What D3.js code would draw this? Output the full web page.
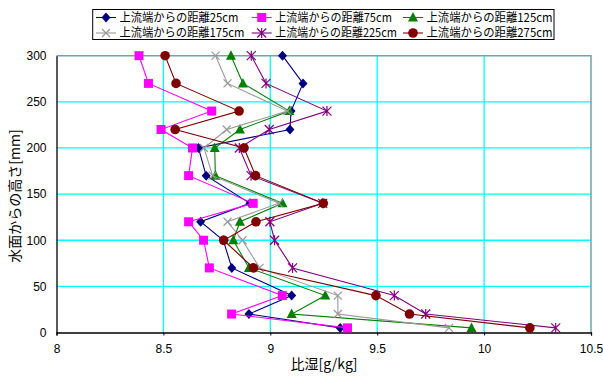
<!DOCTYPE html>
<html><head><meta charset="utf-8">
<script src="https://cdn.jsdelivr.net/npm/d3@7"></script>
<style>body{margin:0;background:#fff}svg{display:block}</style>
</head><body><svg id="c" width="603" height="376"></svg>
<script>
const heights = [300,270,240,220,200,170,140,120,100,70,40,20,5];
const seriesNames = ["上流端からの距離25cm","上流端からの距離75cm","上流端からの距離125cm","上流端からの距離175cm","上流端からの距離225cm","上流端からの距離275cm"];
const s25  = [9.057,9.153,9.097,9.092,8.664,8.700,8.905,8.674,8.780,8.820,9.100,8.900,9.327];
const s75  = [8.386,8.430,8.726,8.489,8.636,8.618,8.920,8.618,8.688,8.715,9.056,8.819,9.361];
const s125 = [8.816,8.872,9.089,8.858,8.740,8.743,9.057,8.858,8.827,8.900,9.257,9.100,9.941];
const s175 = [8.744,8.800,9.080,8.796,8.690,8.730,9.040,8.800,8.870,8.950,9.316,9.316,9.836];
const s225 = [8.911,8.980,9.265,8.995,8.855,8.910,9.245,8.998,9.020,9.104,9.580,9.727,10.335];
const s275 = [8.508,8.559,8.854,8.555,8.877,8.931,9.248,8.933,8.782,8.921,9.494,9.651,10.214];
const xTicks = [8,8.5,9,9.5,10,10.5];
const yTicks = [0,50,100,150,200,250,300];
const xTitle = "比湿[g/kg]";
const yTitle = "水面からの高さ[mm]";

const allSeries = [s25,s75,s125,s175,s225,s275];
const colors = ["#000080","#ff00ff","#008000","#999999","#800080","#800000"];
const markers = ["diamond","square","triangle","x","star","circle"];

const svg = d3.select("#c");
const L=56.5, R=591, T=55.7, B=332.5;
const x = d3.scaleLinear().domain([8,10.5]).range([L,R]);
const y = d3.scaleLinear().domain([0,300]).range([B,T]);
const font = "'Liberation Sans', Arial, sans-serif";
const jfont = "'Noto Sans CJK JP', sans-serif";

// gridlines
svg.append("g").selectAll("line").data(xTicks.slice(1,-1)).join("line")
  .attr("x1",d=>x(d)).attr("x2",d=>x(d)).attr("y1",T).attr("y2",B)
  .attr("stroke","#00ffff").attr("stroke-width",1.3);
svg.append("g").selectAll("line").data(yTicks.slice(1,-1)).join("line")
  .attr("x1",L).attr("x2",R).attr("y1",d=>y(d)).attr("y2",d=>y(d))
  .attr("stroke","#00ffff").attr("stroke-width",1.3);
// plot border top/right
svg.append("path").attr("d",`M${L},${T}H${R}V${B}`).attr("fill","none")
  .attr("stroke","#6aa8a8").attr("stroke-width",1.5);

// axes
const xAxis = d3.axisBottom(x).tickValues(xTicks).tickSize(3).tickFormat(d=>String(d));
const gx = svg.append("g").attr("transform",`translate(0,${B})`).call(xAxis);
gx.select(".domain").attr("stroke","#000").attr("stroke-width",1.3);
gx.selectAll(".tick line").attr("stroke","#000");
gx.selectAll("text").attr("font-family",font).attr("font-size",12).attr("fill","#000").attr("dy","1.2em");

const yAxis = d3.axisLeft(y).tickValues(yTicks).tickSize(0).tickPadding(10);
const gy = svg.append("g").attr("transform",`translate(${L},0)`).call(yAxis);
gy.select(".domain").attr("stroke","#000").attr("stroke-width",1.3);
gy.selectAll("text").attr("font-family",font).attr("font-size",12).attr("fill","#000");

// titles
svg.append("text").attr("x",324).attr("y",369).attr("text-anchor","middle")
  .attr("font-family",jfont).attr("font-size",14).text(xTitle);
svg.append("text").attr("transform","translate(20,196) rotate(-90)").attr("text-anchor","middle")
  .attr("font-family",jfont).attr("font-size",14).text(yTitle);

function drawMarker(g,type,color){
  if(type==="diamond"){
    g.append("path").attr("d","M0,-5L4.5,0L0,5L-4.5,0Z").attr("fill",color);
  } else if(type==="square"){
    g.append("rect").attr("x",-4.5).attr("y",-4.5).attr("width",9).attr("height",9).attr("fill",color);
  } else if(type==="triangle"){
    g.append("path").attr("d","M0,-5.5L5,4L-5,4Z").attr("fill",color);
  } else if(type==="x"){
    g.append("path").attr("d","M-4,-4L4,4M-4,4L4,-4").attr("stroke",color).attr("stroke-width",1.2).attr("fill","none");
  } else if(type==="star"){
    g.append("path").attr("d","M-4.5,-4.5L4.5,4.5M-4.5,4.5L4.5,-4.5M0,-5L0,5").attr("stroke",color).attr("stroke-width",1.2).attr("fill","none");
  } else if(type==="circle"){
    g.append("circle").attr("r",4.8).attr("fill",color);
  }
}

const line = d3.line().x(d=>x(d[0])).y(d=>y(d[1]));
allSeries.forEach((s,i)=>{
  const pts = s.map((v,j)=>[v,heights[j]]);
  const g = svg.append("g");
  g.append("path").attr("d",line(pts)).attr("fill","none").attr("stroke",colors[i]).attr("stroke-width",1.1);
  pts.forEach(p=>{
    const m = g.append("g").attr("transform",`translate(${x(p[0])},${y(p[1])})`);
    drawMarker(m,markers[i],colors[i]);
  });
});

// legend
const lg = svg.append("g");
lg.append("rect").attr("x",92.7).attr("y",9.5).attr("width",461.3).attr("height",30)
  .attr("fill","#fff").attr("stroke","#000").attr("stroke-width",1);
const colX = [96,251.7,403];
const rowY = [17.5,33];
const textLens = [119,116.7,126,125,121.7,126];
seriesNames.forEach((n,i)=>{
  const cx = colX[i%3], cy = rowY[Math.floor(i/3)];
  lg.append("line").attr("x1",cx).attr("x2",cx+20).attr("y1",cy).attr("y2",cy).attr("stroke",colors[i]).attr("stroke-width",1.1);
  const m = lg.append("g").attr("transform",`translate(${cx+10},${cy})`);
  drawMarker(m,markers[i],colors[i]);
  lg.append("text").attr("x",cx+23.5).attr("y",cy+4.3).attr("font-family",jfont).attr("font-size",12)
    .attr("textLength",textLens[i]).attr("lengthAdjust","spacingAndGlyphs").text(n);
});
</script></body></html>
